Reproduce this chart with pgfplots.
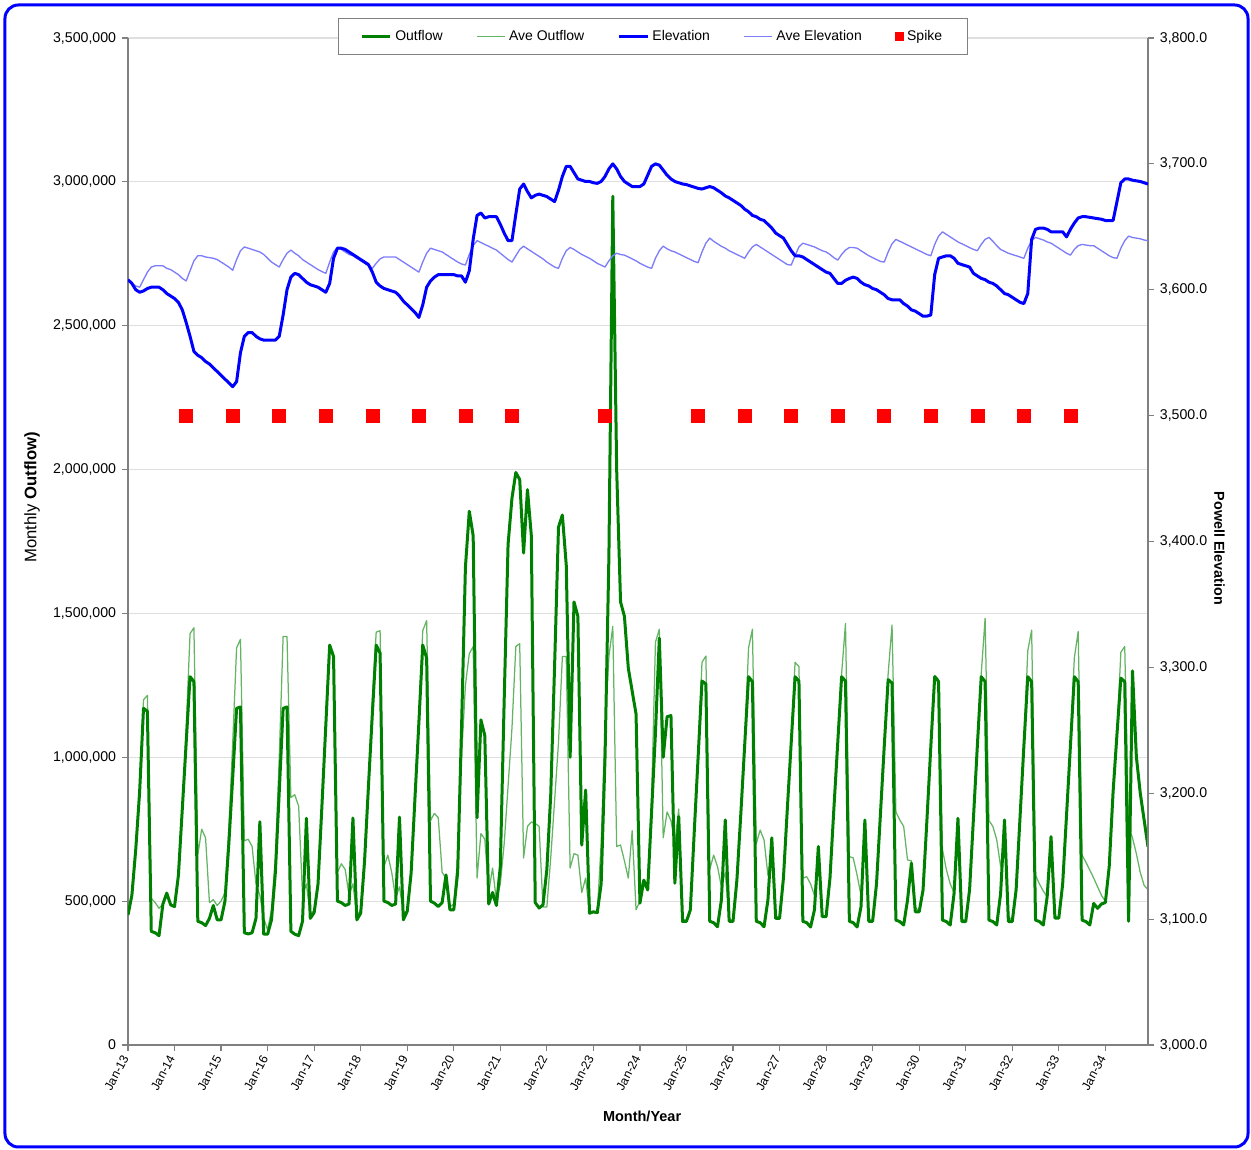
\documentclass[border=0pt]{standalone}
\usepackage{pgfplots}
\pgfplotsset{compat=1.18}
\usepackage{pgfplotstable}
\usepackage{fontspec}
\setmainfont{Liberation Sans}
\definecolor{outg}{RGB}{0,128,0}
\definecolor{aveg}{RGB}{100,180,100}
\definecolor{elevb}{RGB}{0,0,255}
\definecolor{aveb}{RGB}{125,125,250}
\definecolor{axgray}{RGB}{128,128,128}
\pgfplotstableread{
m o ao e ae
0 452 452 3608 3608
1 520 520 3605 3605
2 680 680 3600 3603
3 880 880 3598 3602
4 1170 1200 3599 3608
5 1160 1215 3601 3614
6 395 510 3602 3618
7 390 495 3602 3619
8 380 475 3602 3619
9 490 490 3600 3619
10 528 528 3597 3617
11 487 490 3595 3616
12 481 481 3593 3614
13 590 590 3590 3612
14 820 820 3584 3609
15 1050 1100 3574 3607
16 1280 1430 3563 3615
17 1263 1450 3551 3623
18 430 660 3548 3627
19 425 750 3546 3627
20 415 720 3543 3626
21 440 495 3541 3625.5
22 485 505 3538 3625
23 435 485 3535 3624
24 435 500 3532 3622
25 500 530 3529 3620
26 700 750 3526 3618
27 930 1050 3523 3615.5
28 1170 1380 3527 3624
29 1175 1410 3550 3631
30 390 710 3563 3634
31 386 715 3566 3633
32 390 690 3566 3632
33 440 560 3563 3631
34 776 520 3561 3630
35 385 440 3560 3628
36 385 400 3560 3625
37 435 470 3560 3622
38 600 650 3560 3620
39 880 1000 3563 3618
40 1170 1420 3580 3624
41 1175 1420 3600 3629
42 395 860 3610 3631.5
43 385 870 3613 3629
44 380 830 3612 3627
45 430 520 3609 3624
46 788 560 3606 3622
47 440 450 3604 3620
48 460 470 3603 3618
49 560 560 3602 3616
50 830 830 3600 3614.5
51 1110 1110 3598 3613
52 1390 1390 3605 3622
53 1350 1350 3625 3630
54 500 600 3633 3633.6
55 495 630 3633 3632
56 485 610 3632 3630
57 490 520 3630 3628
58 789 560 3628 3627
59 435 450 3626 3625
60 458 470 3624 3623
61 640 640 3622 3621
62 900 900 3620 3619
63 1150 1200 3614 3617
64 1390 1435 3606 3621
65 1362 1440 3603 3624.5
66 500 620 3601 3626
67 495 660 3600 3626
68 485 600 3599 3626
69 490 510 3598 3626
70 792 550 3595 3624
71 435 460 3591 3622
72 465 465 3588 3620
73 597 597 3585 3618
74 860 860 3582 3616
75 1120 1150 3578 3614
76 1390 1440 3588 3622
77 1345 1475 3602 3629
78 500 780 3607 3633
79 493 805 3610 3632
80 481 790 3612 3631
81 495 600 3612 3630
82 591 580 3612 3628
83 470 480 3612 3626
84 470 490 3612 3624
85 600 650 3611 3622
86 1100 1000 3611 3620.5
87 1660 1250 3606 3619.6
88 1855 1360 3615 3628
89 1770 1385 3640 3635
90 790 580 3659 3639
91 1130 735 3661 3637.5
92 1075 715 3657 3636
93 490 530 3658 3634.5
94 530 615 3658 3633
95 485 500 3658 3631.5
96 620 560 3652 3629
97 1200 700 3645 3626.5
98 1740 900 3639 3624
99 1900 1100 3639 3622
100 1990 1385 3660 3627
101 1965 1395 3680 3632
102 1710 650 3684 3634.6
103 1930 760 3678 3632.5
104 1770 775 3673 3630.5
105 495 770 3675 3628.5
106 476 760 3676 3626.5
107 487 480 3675 3624.5
108 610 480 3674 3622
109 870 650 3672 3620
110 1320 850 3670 3618
111 1800 1050 3679 3617
112 1842 1350 3690 3625
113 1668 1350 3698 3631
114 1000 615 3698 3633.6
115 1540 665 3693 3632
116 1490 660 3688 3630
117 695 530 3687 3628
118 886 580 3686 3626.5
119 458 460 3686 3625
120 463 460 3685 3623
121 460 460 3684.5 3621
122 560 700 3686 3619.5
123 1000 1100 3690 3618
124 1700 1350 3696 3623
125 2950 1455 3700 3627
126 2000 690 3696 3629
127 1540 695 3690 3628
128 1490 640 3686 3627.5
129 1310 580 3684 3626
130 1230 745 3682 3624.5
131 1150 470 3682 3623
132 493 500 3682 3621
133 573 573 3684 3619.5
134 539 560 3691 3618
135 810 850 3698 3617
136 1085 1400 3700 3625
137 1414 1445 3699 3631
138 1000 720 3695 3634.6
139 1141 810 3691 3632.5
140 1145 780 3688 3631
141 562 700 3686 3630
142 794 820 3685 3628.5
143 429 440 3684 3627
144 430 430 3683.5 3625.5
145 470 470 3682.5 3624
146 740 740 3681.5 3622.5
147 1000 1000 3680.5 3621.5
148 1265 1330 3680 3630
149 1255 1352 3681 3637
150 430 610 3682 3641
151 425 660 3681 3638.5
152 411 620 3679 3636.5
153 504 550 3677 3634.5
154 782 600 3674.5 3633
155 430 440 3673 3631
156 430 430 3671 3629.5
157 573 573 3669 3628
158 800 800 3667 3626.5
159 1040 1040 3664 3625
160 1280 1380 3662 3630
161 1263 1445 3659 3634
162 430 700 3658 3636
163 425 747 3656 3634
164 411 713 3655 3632
165 504 590 3652 3630
166 720 660 3649 3628
167 440 450 3645 3626
168 440 440 3643 3624
169 580 580 3641 3622
170 820 820 3636 3620
171 1050 1050 3631 3619.6
172 1280 1330 3627 3627
173 1265 1315 3627 3634
174 430 580 3626 3637
175 425 585 3624 3636
176 410 560 3622 3635
177 470 520 3620 3634
178 690 650 3618 3632.5
179 446 450 3616 3631
180 446 446 3614 3630
181 580 580 3613 3628
182 820 820 3609 3625.5
183 1050 1050 3605 3623.5
184 1280 1290 3605 3628
185 1265 1465 3607.5 3631.5
186 430 655 3609 3633.6
187 425 650 3610 3633.5
188 410 590 3609 3633
189 480 520 3606 3631
190 782 720 3604 3629
191 430 440 3603 3627
192 430 430 3601 3625.5
193 560 560 3600 3624
194 800 800 3598 3622.5
195 1040 1040 3596 3622
196 1270 1290 3593 3630
197 1258 1460 3592 3636.5
198 434 810 3592 3640
199 429 782 3592 3638.5
200 417 760 3589 3637
201 504 643 3587 3635.5
202 632 640 3584 3634
203 463 480 3583 3632.5
204 463 463 3581 3631
205 539 539 3579 3629.5
206 782 782 3579 3628
207 1037 1037 3580 3627
208 1280 1285 3612 3636
209 1263 1270 3625 3642.5
210 434 680 3626 3646
211 429 610 3627 3644
212 417 560 3627 3642
213 527 530 3625 3640
214 788 700 3621 3638
215 429 440 3620 3636.5
216 429 429 3619 3635
217 540 540 3618 3633.5
218 790 790 3613 3632
219 1040 1040 3611 3631
220 1280 1290 3609 3636
221 1263 1483 3608 3640
222 434 780 3606 3641.6
223 429 760 3605 3638.5
224 417 713 3603 3635
225 527 620 3600 3632
226 782 720 3597 3630.5
227 429 450 3596 3629
228 429 429 3594 3628
229 540 540 3592 3627
230 790 790 3590 3626
231 1040 1040 3589 3625
232 1280 1370 3597 3633
233 1263 1442 3640 3639
234 434 590 3648 3641.6
235 429 560 3649 3640.5
236 417 535 3649 3639.5
237 515 515 3648 3638
238 724 700 3646 3637
239 441 450 3646 3635
240 441 441 3646 3633
241 560 560 3646 3631
242 800 800 3642 3629
243 1040 1040 3648 3627.5
244 1280 1345 3653 3632
245 1263 1437 3657 3635
246 434 660 3658 3636
247 429 635 3658 3635.5
248 417 608 3657.5 3635
249 492 580 3657 3635
250 475 550 3656.5 3633
251 490 520 3656 3631
252 495 500 3655 3629
253 620 620 3655 3627
254 880 880 3655 3625.5
255 1080 1080 3670 3625
256 1275 1365 3685 3633
257 1263 1385 3688 3639
258 430 760 3688 3642.6
259 1300 720 3687 3641.5
260 1002 665 3686.5 3641
261 876 600 3686 3640.5
262 782 555 3685 3639.5
263 689 540 3684 3639
}\flowdata
\pgfplotstableread{
m s
15 3500
27 3500
39 3500
51 3500
63 3500
75 3500
87 3500
99 3500
123 3500
147 3500
159 3500
171 3500
183 3500
195 3500
207 3500
219 3500
231 3500
243 3500
}\spikedata
\pgfplotsset{
  common/.style={
    scale only axis, width=612pt, height=604.2pt,
    xmin=0, xmax=263,
    tick align=outside, major tick length=3.6pt,
    tick style={axgray, line width=0.7pt},
    axis line style={-, draw=axgray, line width=0.9pt},
    ticklabel style={font=\fontsize{8.5}{10}\selectfont},
  },
  outsty/.style={outg, line width=1.8pt, line join=round, no marks},
  avesty/.style={aveg, line width=0.75pt, line join=round, no marks},
  elevsty/.style={elevb, line width=1.8pt, line join=round, no marks},
  aveesty/.style={aveb, line width=0.8pt, line join=round, no marks},
}
\begin{document}
\begin{tikzpicture}
\useasboundingbox (-76.8pt,-63pt) rectangle (673.8pt,627pt);
\draw[elevb, line width=1.8pt, rounded corners=8pt] (-73.8pt,-61.2pt) rectangle (672pt,624pt);
\begin{axis}[common,
  ymin=0, ymax=3500,
  axis x line*=bottom, axis y line*=left,
  xtick={0,12,...,252},
  xticklabels={Jan-13,Jan-14,Jan-15,Jan-16,Jan-17,Jan-18,Jan-19,Jan-20,Jan-21,Jan-22,Jan-23,Jan-24,Jan-25,Jan-26,Jan-27,Jan-28,Jan-29,Jan-30,Jan-31,Jan-32,Jan-33,Jan-34},
  x tick label style={rotate=62, anchor=east, font=\fontsize{7.4}{9}\selectfont},
  ytick={0,500,1000,1500,2000,2500,3000,3500},
  yticklabels={0,{500,000},{1,000,000},{1,500,000},{2,000,000},{2,500,000},{3,000,000},{3,500,000}},
  ymajorgrids, grid style={gray!25, line width=0.7pt},
  xlabel={\textbf{Month/Year}},
  xlabel style={at={(axis description cs:0.504,-0.0705)}, anchor=center, font=\fontsize{8.7}{10}\selectfont},
  ylabel={Monthly \textbf{Outflow)}},
  ylabel style={at={(axis description cs:-0.094,0.544)}, anchor=center, font=\fontsize{10}{12}\selectfont},
]
\addplot[avesty] table[x=m, y=ao] {\flowdata};
\addplot[outsty] table[x=m, y=o] {\flowdata};
\end{axis}
\begin{axis}[common,
  ymin=3000, ymax=3800,
  axis x line=none, axis y line*=right,
  ytick={3000,3100,...,3800},
  yticklabel style={/pgf/number format/.cd, fixed, fixed zerofill, precision=1, 1000 sep={,}, assume math mode=true},
  ylabel={\textbf{Powell Elevation}},
  ylabel style={at={(axis description cs:1.070,0.493)}, anchor=center, rotate=180, font=\fontsize{8.6}{10}\selectfont},
  legend columns=5,
  legend style={at={(axis description cs:0.5147,1.0199)}, anchor=north, draw=axgray, line width=0.6pt, fill=white,
    font=\fontsize{8.4}{10}\selectfont, inner xsep=13pt, inner ysep=5pt,
    /tikz/every even column/.append style={column sep=18pt}},
  legend cell align=left,
]
\addlegendimage{outsty}
\addlegendentry{Outflow}
\addlegendimage{avesty}
\addlegendentry{Ave Outflow}
\addlegendimage{elevsty}
\addlegendentry{Elevation}
\addlegendimage{aveesty}
\addlegendentry{Ave Elevation}
\addlegendimage{only marks, mark=square*, mark size=2.6pt, color=red, mark options={draw=red, fill=red}}
\addlegendentry{Spike}
\addplot[aveesty, forget plot] table[x=m, y=ae] {\flowdata};
\addplot[elevsty, forget plot] table[x=m, y=e] {\flowdata};
\addplot[only marks, mark=square*, mark size=3.9pt, color=red, mark options={draw=red, fill=red}, forget plot] table[x=m, y=s] {\spikedata};
\end{axis}
\end{tikzpicture}
\end{document}
